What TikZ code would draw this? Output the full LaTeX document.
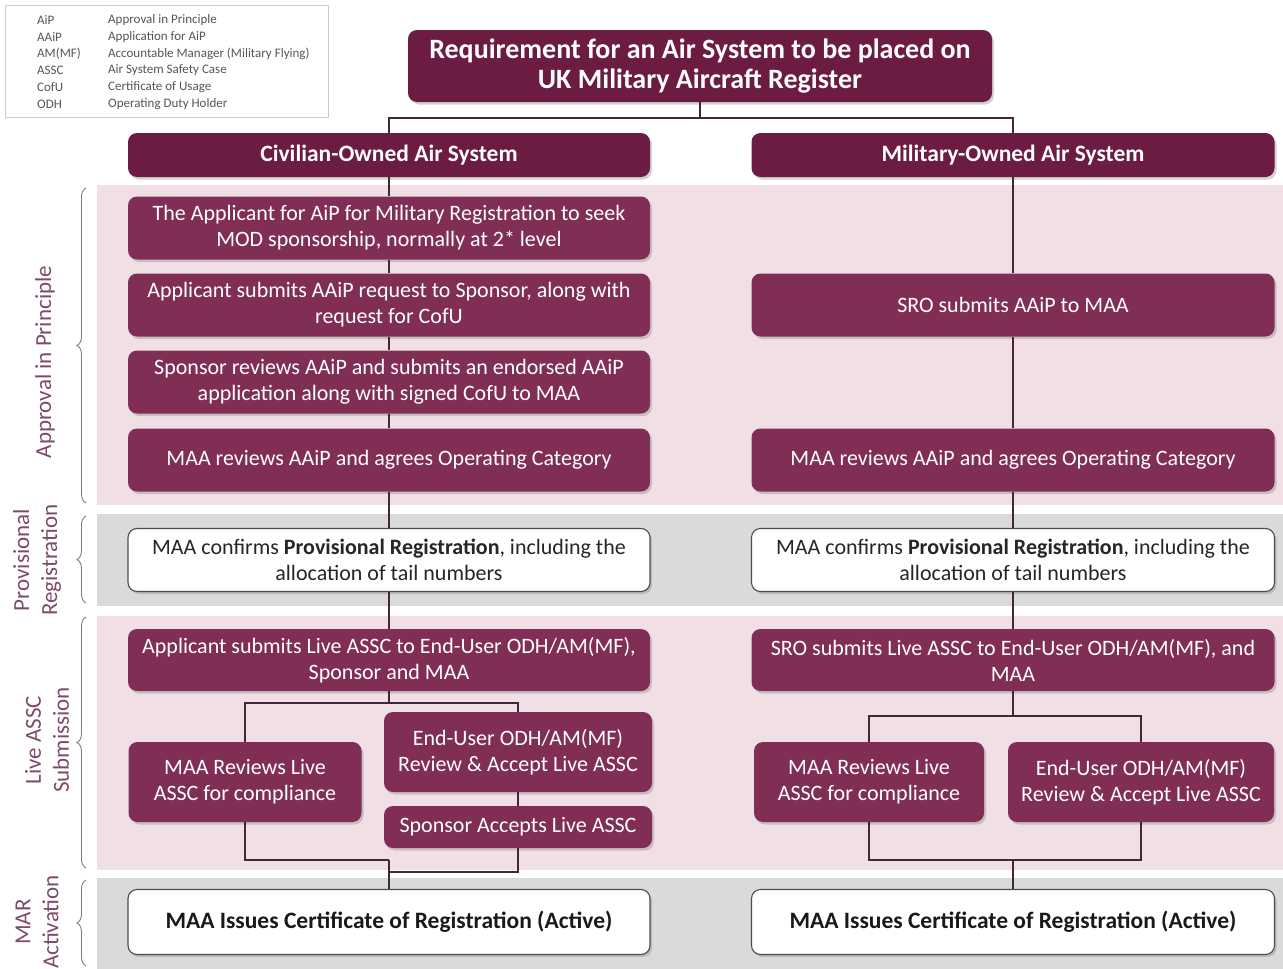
\documentclass[tikz,border=0pt]{standalone}
\usepackage{fontspec}
\setmainfont{Carlito}
\usetikzlibrary{shadows,decorations.pathreplacing}
\definecolor{boxc}{RGB}{128,46,86}
\definecolor{headc}{RGB}{108,27,66}
\definecolor{bandpink}{RGB}{240,224,230}
\definecolor{bandgray}{RGB}{218,218,218}
\definecolor{linec}{RGB}{70,38,54}
\definecolor{labc}{RGB}{125,75,105}
\definecolor{bracec}{RGB}{140,115,130}
\definecolor{legc}{RGB}{85,85,85}
\begin{document}
\begin{tikzpicture}[x=1pt,y=-1pt,
  wh/.style 2 args={minimum width=#1pt, minimum height=#2pt},
  base/.style={rounded corners=9pt, align=center, inner sep=2pt,
    drop shadow={opacity=0.35, shadow xshift=2pt, shadow yshift=-2.5pt}},
  dbox/.style={base, fill=boxc, text=white, font=\fontsize{22}{26}\selectfont},
  hbox/.style={base, fill=headc, text=white, font=\fontsize{23.5}{26}\selectfont\bfseries},
  tbox/.style={base, fill=headc, text=white, font=\fontsize{28}{30}\selectfont\bfseries},
  wbox/.style={base, fill=white, draw=black!70, line width=1.1pt, text=black!85, font=\fontsize{22}{25.5}\selectfont},
  fbox/.style={base, fill=white, draw=black!70, line width=1.1pt, text=black!90, font=\fontsize{23.5}{26}\selectfont\bfseries},
  conn/.style={draw=linec, line width=1.8pt},
  band/.style={fill=#1, draw=none},
  sidelab/.style={rotate=90, align=center, text=labc, font=\fontsize{23}{28}\selectfont},
  sbrace/.style={draw=bracec, line width=0.9pt, decorate, decoration={brace, amplitude=9pt}},
  legtxt/.style={anchor=west, text=legc, font=\fontsize{13}{15}\selectfont, inner sep=0pt}
]
\useasboundingbox (0,0) rectangle (1283,969);

% bands
\fill[band=bandpink] (97,185) rectangle (1283,505);
\fill[band=bandgray] (97,514) rectangle (1283,606);
\fill[band=bandpink] (97,616) rectangle (1283,870);
\fill[band=bandgray] (97,878) rectangle (1283,969);

% legend
\draw[draw=black!20, line width=0.8pt] (5,5) rectangle (328,117);
\node[legtxt] (l1a) at (37,20) {AiP};
\node[legtxt] (l1b) at (108,20) {Approval in Principle};
\node[legtxt] (l2a) at (37,37) {AAiP};
\node[legtxt] (l2b) at (108,37) {Application for AiP};
\node[legtxt] (l3a) at (37,54) {AM(MF)};
\node[legtxt] (l3b) at (108,54) {Accountable Manager (Military Flying)};
\node[legtxt] (l4a) at (37,70) {ASSC};
\node[legtxt] (l4b) at (108,70) {Air System Safety Case};
\node[legtxt] (l5a) at (37,87) {CofU};
\node[legtxt] (l5b) at (108,87) {Certificate of Usage};
\node[legtxt] (l6a) at (37,104) {ODH};
\node[legtxt] (l6b) at (108,104) {Operating Duty Holder};

% side labels
\draw[sbrace] (86,503) -- (86,188);
\node[sidelab] (sl1) at (45,362) {Approval in Principle};
\draw[sbrace] (86,603) -- (86,516);
\node[sidelab] (sl2) at (37,560) {Provisional\\Registration};
\draw[sbrace] (86,868) -- (86,617);
\node[sidelab] (sl3) at (47,740) {Live ASSC\\Submission};
\draw[sbrace] (86,966) -- (86,880);
\node[sidelab] (sl4) at (37,922) {MAR\\Activation};

% top
\node[tbox, wh={584}{72}] (top) at (700,66) {Requirement for an Air System to be placed on\\UK Military Aircraft Register};
\node[hbox, wh={522}{44}] (civ) at (389,155) {Civilian-Owned Air System};
\node[hbox, wh={523}{44}] (mil) at (1013,155) {Military-Owned Air System};

% left column
\node[dbox, wh={522}{63}] (c1) at (389,228) {The Applicant for AiP for Military Registration to seek\\MOD sponsorship, normally at 2* level};
\node[dbox, wh={522}{63}] (c2) at (389,305) {Applicant submits AAiP request to Sponsor, along with\\request for CofU};
\node[dbox, wh={522}{63}] (c3) at (389,382) {Sponsor reviews AAiP and submits an endorsed AAiP\\application along with signed CofU to MAA};
\node[dbox, wh={522}{63}] (c4) at (389,460) {MAA reviews AAiP and agrees Operating Category};
\node[wbox, wh={522}{63}] (cp) at (389,560) {MAA confirms \textbf{Provisional Registration}, including the\\allocation of tail numbers};
\node[dbox, wh={522}{62}] (cl) at (389,660) {Applicant submits Live ASSC to End-User ODH/AM(MF),\\Sponsor and MAA};
\node[dbox, wh={233}{80}] (cm) at (245,782) {MAA Reviews Live\\ASSC for compliance};
\node[dbox, wh={268}{80}] (ce) at (518,752) {End-User ODH/AM(MF)\\Review \& Accept Live ASSC};
\node[dbox, wh={268}{42}] (cs) at (518,827) {Sponsor Accepts Live ASSC};
\node[fbox, wh={522}{65}] (cf) at (389,922) {MAA Issues Certificate of Registration (Active)};

% right column
\node[dbox, wh={523}{63}] (m2) at (1013,305) {SRO submits AAiP to MAA};
\node[dbox, wh={523}{63}] (m4) at (1013,460) {MAA reviews AAiP and agrees Operating Category};
\node[wbox, wh={523}{63}] (mp) at (1013,560) {MAA confirms \textbf{Provisional Registration}, including the\\allocation of tail numbers};
\node[dbox, wh={523}{62}] (ml) at (1013,660) {SRO submits Live ASSC to End-User ODH/AM(MF), and\\MAA};
\node[dbox, wh={230}{80}] (mm) at (869,782) {MAA Reviews Live\\ASSC for compliance};
\node[dbox, wh={266}{80}] (me) at (1141,782) {End-User ODH/AM(MF)\\Review \& Accept Live ASSC};
\node[fbox, wh={523}{65}] (mf) at (1013,922) {MAA Issues Certificate of Registration (Active)};

% junctions
\coordinate (j0) at (700,118);
\coordinate (jl1) at (389,703);
\coordinate (jl2) at (389,860);
\coordinate (jl3) at (389,872);
\coordinate (jr1) at (1013,716);
\coordinate (jr2) at (1013,860);

% connectors
\draw[conn] (top.south) -- (j0);
\draw[conn] (civ.north) |- (j0) -| (mil.north);
\draw[conn] (civ.south) -- (c1.north);
\draw[conn] (c1.south) -- (c2.north);
\draw[conn] (c2.south) -- (c3.north);
\draw[conn] (c3.south) -- (c4.north);
\draw[conn] (c4.south) -- (cp.north);
\draw[conn] (cp.south) -- (cl.north);
\draw[conn] (cl.south) -- (jl1);
\draw[conn] (cm.north) |- (jl1) -| (ce.north);
\draw[conn] (ce.south) -- (cs.north);
\draw[conn] (cm.south) |- (jl2);
\draw[conn] (cs.south) |- (jl3);
\draw[conn] (jl2) -- (cf.north);

\draw[conn] (mil.south) -- (m2.north);
\draw[conn] (m2.south) -- (m4.north);
\draw[conn] (m4.south) -- (mp.north);
\draw[conn] (mp.south) -- (ml.north);
\draw[conn] (ml.south) -- (jr1);
\draw[conn] (mm.north) |- (jr1) -| (me.north);
\draw[conn] (mm.south) |- (jr2) -| (me.south);
\draw[conn] (jr2) -- (mf.north);
\end{tikzpicture}
\end{document}
